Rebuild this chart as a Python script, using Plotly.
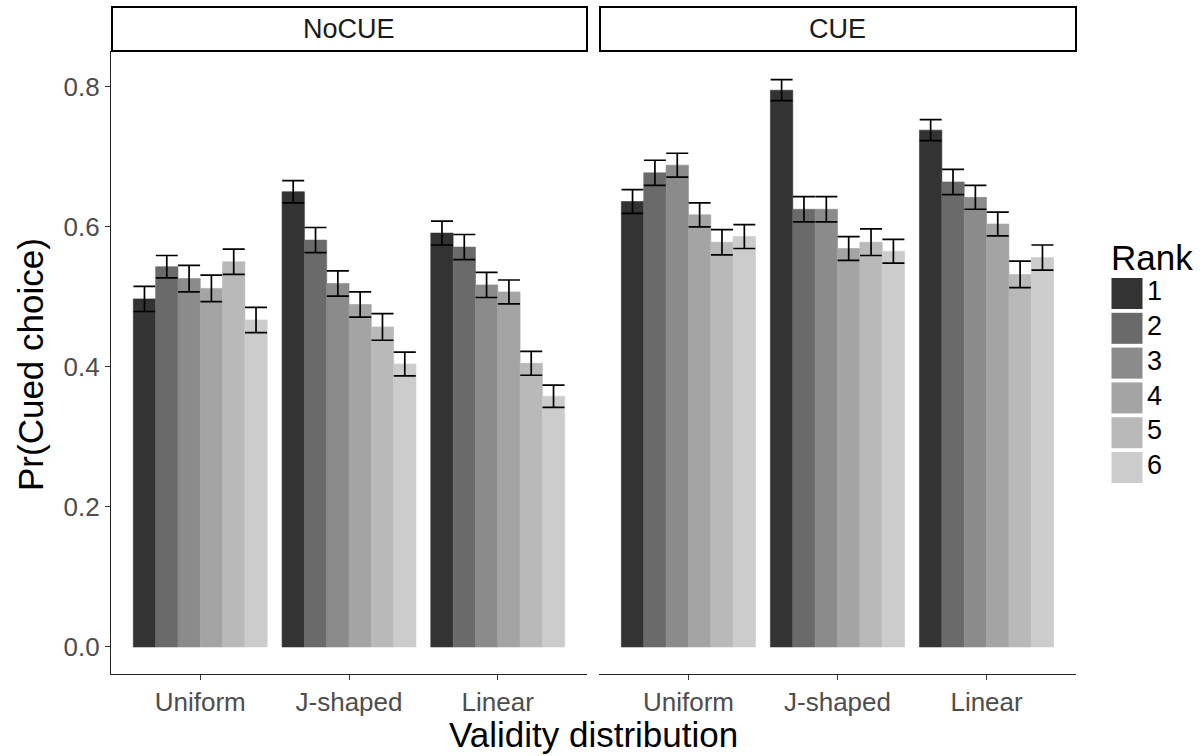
import plotly.graph_objects as go

# ---------------- data ----------------
distributions = ["Uniform", "J-shaped", "Linear"]
ranks = ["1", "2", "3", "4", "5", "6"]
rank_colors = ["#333333", "#6A6A6A", "#8B8B8B", "#A4A4A4", "#B9B9B9", "#CCCCCC"]
panels = ["NoCUE", "CUE"]

# values[rank][distribution]
nocue_uniform = [0.497, 0.543, 0.526, 0.512, 0.550, 0.467]
nocue_jshaped = [0.650, 0.581, 0.519, 0.489, 0.457, 0.404]
nocue_linear = [0.591, 0.571, 0.517, 0.507, 0.405, 0.358]
nocue_uniform_se = [0.018, 0.016, 0.019, 0.019, 0.018, 0.018]
nocue_jshaped_se = [0.016, 0.018, 0.018, 0.018, 0.019, 0.017]
nocue_linear_se = [0.017, 0.018, 0.018, 0.017, 0.017, 0.016]

cue_uniform = [0.636, 0.677, 0.688, 0.617, 0.578, 0.586]
cue_jshaped = [0.795, 0.625, 0.625, 0.569, 0.578, 0.565]
cue_linear = [0.738, 0.664, 0.642, 0.604, 0.532, 0.556]
cue_uniform_se = [0.017, 0.018, 0.017, 0.017, 0.018, 0.017]
cue_jshaped_se = [0.015, 0.018, 0.018, 0.017, 0.019, 0.017]
cue_linear_se = [0.015, 0.018, 0.017, 0.017, 0.019, 0.018]

y_ticks = [0.0, 0.2, 0.4, 0.6, 0.8]
y_ticktext = ["0.0", "0.2", "0.4", "0.6", "0.8"]

panel_data = {
    "NoCUE": ([nocue_uniform, nocue_jshaped, nocue_linear],
              [nocue_uniform_se, nocue_jshaped_se, nocue_linear_se]),
    "CUE": ([cue_uniform, cue_jshaped, cue_linear],
            [cue_uniform_se, cue_jshaped_se, cue_linear_se]),
}

# ---------------- layout constants ----------------
W, H = 1203, 756
FONT = "Liberation Sans, Arial, sans-serif"
TICK_COLOR = "#4D4D4D"


def px_x(p):
    return p / W


def px_y(p):
    return 1 - p / H


panel_x = {"NoCUE": (111, 587), "CUE": (599, 1076)}
panel_top, panel_bottom = 51, 674
strip_top = 7

fig = go.Figure()

for pi, panel in enumerate(panels):
    vals, ses = panel_data[panel]
    xa = "x" if pi == 0 else "x2"
    ya = "y" if pi == 0 else "y2"
    for ri, rank in enumerate(ranks):
        fig.add_trace(go.Bar(
            x=distributions,
            y=[vals[d][ri] for d in range(3)],
            error_y=dict(type="data", array=[ses[d][ri] for d in range(3)],
                         color="black", thickness=1.7, width=11),
            marker=dict(color=rank_colors[ri], line=dict(width=0.6, color=rank_colors[ri])),
            name=rank, showlegend=False,
            xaxis=xa, yaxis=ya,
        ))

# custom legend (large square keys like ggplot)
fig.add_trace(go.Scatter(
    x=[22] * len(ranks), y=ranks, mode="markers",
    marker=dict(symbol="square", size=31, color=rank_colors, line=dict(width=0)),
    xaxis="x3", yaxis="y3", showlegend=False, hoverinfo="skip",
))
fig.add_trace(go.Scatter(
    x=[42] * len(ranks), y=ranks, mode="text", text=ranks,
    textposition="middle right",
    textfont=dict(family=FONT, size=27, color="black"),
    xaxis="x3", yaxis="y3", showlegend=False, hoverinfo="skip",
))

y_range = [-0.0386, 0.851]
x_range = [-0.6, 2.6]

common_x = dict(range=x_range, showline=True, linecolor="#222222", linewidth=1.2,
                ticks="outside", ticklen=5, tickcolor="#333333", tickwidth=1.2,
                tickfont=dict(family=FONT, size=26, color=TICK_COLOR),
                ticklabelstandoff=0,
                showgrid=False, zeroline=False, fixedrange=True, type="category")

fig.update_layout(
    width=W, height=H,
    margin=dict(l=0, r=0, t=0, b=0),
    paper_bgcolor="white", plot_bgcolor="white",
    barmode="group", bargap=0.1, bargroupgap=0,
    xaxis=dict(common_x, domain=[px_x(111), px_x(587)], anchor="y"),
    xaxis2=dict(common_x, domain=[px_x(599), px_x(1076)], anchor="y2"),
    yaxis=dict(range=y_range, domain=[px_y(panel_bottom), px_y(panel_top)],
               tickvals=y_ticks, ticktext=y_ticktext,
               showline=True, linecolor="#222222", linewidth=1.2,
               ticks="outside", ticklen=5, tickcolor="#333333", tickwidth=1.2,
               tickfont=dict(family=FONT, size=26, color=TICK_COLOR),
               showgrid=False, zeroline=False, anchor="x"),
    yaxis2=dict(range=y_range, domain=[px_y(panel_bottom), px_y(panel_top)],
                showticklabels=False, showline=False, ticks="",
                showgrid=False, zeroline=False, anchor="x2"),
    xaxis3=dict(domain=[px_x(1105), 1.0], range=[0, 98], visible=False, anchor="y3"),
    yaxis3=dict(domain=[px_y(484.9), px_y(276.1)], range=[-0.5, 5.5],
                autorange=False, type="category", visible=False, anchor="x3",
                categoryorder="array", categoryarray=ranks[::-1]),
)

shapes = []
annotations = []
for panel in panels:
    x0, x1 = panel_x[panel]
    shapes.append(dict(type="rect", xref="paper", yref="paper",
                       x0=px_x(x0 + 1), x1=px_x(x1), y0=px_y(panel_top), y1=px_y(strip_top),
                       line=dict(color="black", width=2), fillcolor="white"))
    annotations.append(dict(text=panel, xref="paper", yref="paper",
                            x=px_x((x0 + x1) / 2), y=px_y((panel_top + strip_top) / 2),
                            showarrow=False, xanchor="center", yanchor="middle",
                            font=dict(family=FONT, size=27, color="#1A1A1A")))

annotations.append(dict(text="Validity distribution", xref="paper", yref="paper",
                        x=px_x(593), y=px_y(756), showarrow=False,
                        xanchor="center", yanchor="bottom",
                        font=dict(family=FONT, size=35, color="black")))
annotations.append(dict(text="Pr(Cued choice)", xref="paper", yref="paper",
                        x=px_x(30), y=px_y(365), showarrow=False, textangle=-90,
                        xanchor="center", yanchor="middle",
                        font=dict(family=FONT, size=35, color="black")))
annotations.append(dict(text="Rank", xref="paper", yref="paper",
                        x=px_x(1109), y=px_y(257), showarrow=False,
                        xanchor="left", yanchor="middle",
                        font=dict(family=FONT, size=35, color="black")))

fig.update_layout(shapes=shapes, annotations=annotations)

fig.write_html("out.html")
